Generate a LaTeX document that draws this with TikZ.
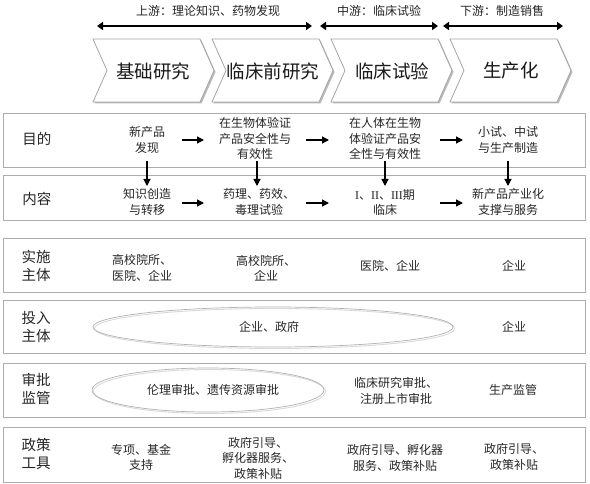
\documentclass[tikz,border=0pt]{standalone}
\usepackage{fontspec}
\setmainfont{Noto Sans CJK SC}
\newfontfamily\latserif{Liberation Serif}
\usetikzlibrary{arrows.meta,shapes.geometric}
\begin{document}
\begin{tikzpicture}[x=1pt,y=-1pt,
  txt/.style={inner sep=0pt, align=center, text=black!85, font=\fontsize{12}{15.5}\selectfont},
  lab/.style={inner sep=0pt, align=left, text=black!85, font=\fontsize{14.5}{18.5}\selectfont},
  chevtext/.style={inner sep=0pt, text=black!90, font=\fontsize{18.5}{22}\selectfont},
  toplab/.style={inner sep=0pt, text=black!85, font=\fontsize{12}{15}\selectfont},
  rowbox/.style={draw=gray!65, line width=0.9pt, fill=white, inner sep=0pt, minimum width=582pt},
  rowshadow/.style={fill=gray!30, draw=none, inner sep=0pt, minimum width=582pt},
  chev/.style={draw=gray!70, line width=0.8pt, fill=white, line join=miter},
  chevshadow/.style={fill=gray!55, draw=none},
  bigarrow/.style={line width=2.6pt, {Triangle[length=6pt,width=8pt]}-{Triangle[length=6pt,width=8pt]}},
  smallarrow/.style={line width=1.3pt, -{Triangle[length=7pt,width=7pt]}},
  oval/.style={ellipse, draw=gray!60, line width=0.7pt, inner sep=0pt},
  ovalshadow/.style={ellipse, draw=gray!30, line width=0.9pt, inner sep=0pt}
]
\useasboundingbox (0,0) rectangle (590,484);
\fill[white] (0,0) rectangle (590,484);

% top labels and double arrows
\node[toplab] (u1) at (208,11) {上游：理论知识、药物发现};
\node[toplab] (u2) at (379,11) {中游：临床试验};
\node[toplab] (u3) at (502,11) {下游：制造销售};
\coordinate (a1l) at (97,26);  \coordinate (a1r) at (312,26);
\coordinate (a2l) at (320,26); \coordinate (a2r) at (438,26);
\coordinate (a3l) at (443,26); \coordinate (a3r) at (563,26);
\draw[bigarrow] (a1l) -- (a1r);
\draw[bigarrow] (a2l) -- (a2r);
\draw[bigarrow] (a3l) -- (a3r);

% chevrons
\foreach \L in {93,212,331,450}{
  \fill[chevshadow] (\L+1.5,40.5) -- ++(107,0) -- ++(14,31.5) -- ++(-14,31.5) -- ++(-107,0) -- ++(14,-31.5) -- cycle;
  \draw[chev] (\L,39) -- ++(107,0) -- ++(14,31.5) -- ++(-14,31.5) -- ++(-107,0) -- ++(14,-31.5) -- cycle;
}
\node[chevtext] (c1) at (153,71) {基础研究};
\node[chevtext] (c2) at (273,71) {临床前研究};
\node[chevtext] (c3) at (392,71) {临床试验};
\node[chevtext] (c4) at (511,71) {生产化};

% row boxes
\foreach \n/\yc/\h in {1/140/54, 2/197.5/45, 3/265/54, 4/326.5/53, 5/390/54, 6/454.5/55}{
  \node[rowshadow, minimum height=\h pt] at (295.2,\yc+1.2) {};
  \node[rowbox, minimum height=\h pt] (box\n) at (294,\yc) {};
}

% row labels
\node[lab] (l1) at (37,139) {目的};
\node[lab] (l2) at (37,199) {内容};
\node[lab] (l3) at (36,266) {实施\\主体};
\node[lab] (l4) at (36,327) {投入\\主体};
\node[lab] (l5) at (36,389) {审批\\监管};
\node[lab] (l6) at (36,454) {政策\\工具};

% row 1
\node[txt] (r1c1) at (147,140) {新产品\\发现};
\node[txt] (r1c2) at (255,138.5) {在生物体验证\\产品安全性与\\有效性};
\node[txt] (r1c3) at (385,138.5) {在人体在生物\\体验证产品安\\全性与有效性};
\node[txt] (r1c4) at (508,140) {小试、中试\\与生产制造};

% row 2
\node[txt] (r2c1) at (147,202) {知识创造\\与转移};
\node[txt] (r2c2) at (259,202) {药理、药效、\\毒理试验};
\node[txt] (r2c3) at (385,202.5) {{\latserif I}、{\latserif II}、{\latserif III}期\\临床};
\node[txt] (r2c4) at (508,202) {新产品产业化\\支撑与服务};

% horizontal arrows
\foreach \row/\y in {1/140,2/203}{
  \coordinate (h\row a1) at (182,\y); \coordinate (h\row b1) at (204,\y);
  \coordinate (h\row a2) at (306,\y); \coordinate (h\row b2) at (329,\y);
  \coordinate (h\row a3) at (440,\y); \coordinate (h\row b3) at (463,\y);
}
\foreach \row in {1,2}{
  \foreach \k in {1,2,3}{
    \draw[smallarrow] (h\row a\k) -- (h\row b\k);
  }
}

% vertical arrows
\foreach \k/\x in {1/147,2/257,3/385,4/508}{
  \coordinate (vt\k) at (\x,161);
  \coordinate (vb\k) at (\x,186);
  \draw[smallarrow] (vt\k) -- (vb\k);
}

% row 3
\node[txt, align=left, anchor=west] (r3c1) at (112,268) {高校院所、\\医院、企业};
\node[txt] (r3c2) at (266,268) {高校院所、\\企业};
\node[txt] (r3c3) at (390,266) {医院、企业};
\node[txt] (r3c4) at (514,266) {企业};

% row 4
\node[ovalshadow, minimum width=360pt, minimum height=40pt] (e1s) at (274.5,328.5) {};
\node[oval, minimum width=360pt, minimum height=40pt] (e1) at (273,327) {};
\node[txt] (r4c1) at (269,327) {企业、政府};
\node[txt] (r4c4) at (514,327) {企业};

% row 5
\node[ovalshadow, minimum width=232pt, minimum height=44pt] (e2s) at (209.5,391.5) {};
\node[oval, minimum width=232pt, minimum height=44pt] (e2) at (208,390) {};
\node[txt] (r5c1) at (213,390) {伦理审批、遗传资源审批};
\node[txt] (r5c3) at (396,391) {临床研究审批、\\注册上市审批};
\node[txt] (r5c4) at (513,390) {生产监管};

% row 6
\node[txt] (r6c1) at (141,457.5) {专项、基金\\支持};
\node[txt] (r6c2) at (258,458) {政府引导、\\孵化器服务、\\政策补贴};
\node[txt] (r6c3) at (395,458) {政府引导、孵化器\\服务、政策补贴};
\node[txt] (r6c4) at (514,457) {政府引导、\\政策补贴};
\end{tikzpicture}
\end{document}
